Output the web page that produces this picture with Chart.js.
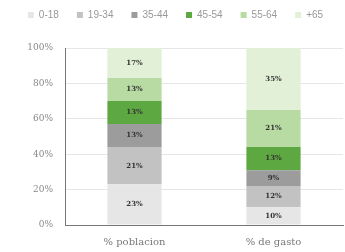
<!DOCTYPE html>
<html>
<head>
<meta charset="utf-8">
<script src="https://cdn.jsdelivr.net/npm/chart.js@4"></script>
<style>
  html, body { margin: 0; padding: 0; background: #fff; }
  #wrap { width: 345px; height: 252px; position: relative; }
</style>
</head>
<body>
<div id="wrap"><canvas id="grafico"></canvas></div>
<script>
// Datos
const categorias = ['% poblacion', '% de gasto'];
const grupos = ['0-18', '19-34', '35-44', '45-54', '55-64', '+65'];
const v0_18 = [23, 10];
const v19_34 = [21, 12];
const v35_44 = [13, 9];
const v45_54 = [13, 13];
const v55_64 = [13, 21];
const v65 = [17, 35];
const ticksY = [0, 20, 40, 60, 80, 100];

const colores = ['#e6e6e6', '#c2c2c2', '#9c9c9c', '#5ea842', '#b8dba4', '#e1f0d6'];
const valores = [v0_18, v19_34, v35_44, v45_54, v55_64, v65];

// Etiquetas dentro de las barras
const etiquetas = {
    id: 'etiquetas',
    afterDatasetsDraw(chart) {
        const ctx = chart.ctx;
        ctx.save();
        ctx.font = 'bold 7px "DejaVu Serif"';
        ctx.fillStyle = '#333';
        ctx.textAlign = 'center';
        ctx.textBaseline = 'middle';
        chart.data.datasets.forEach((ds, i) => {
            chart.getDatasetMeta(i).data.forEach((bar, j) => {
                const y = (bar.y + bar.base) / 2;
                ctx.fillText(ds.data[j] + '%', bar.x, y);
            });
        });
        ctx.restore();
    }
};

// Espacio extra bajo la leyenda
const espacioLeyenda = {
    id: 'espacioLeyenda',
    beforeInit(chart) {
        const fitOrig = chart.legend.fit;
        chart.legend.fit = function () {
            fitOrig.bind(chart.legend)();
            this.height += 18;
        };
    }
};

new Chart(document.getElementById('grafico'), {
    type: 'bar',
    data: {
        labels: categorias,
        datasets: grupos.map((g, i) => ({
            label: g,
            data: valores[i],
            backgroundColor: colores[i],
            barPercentage: 0.39,
            categoryPercentage: 1
        }))
    },
    options: {
        responsive: true,
        maintainAspectRatio: false,
        animation: false,
        layout: { padding: { left: 8, right: 2, top: -8, bottom: 0 } },
        plugins: {
            tooltip: { enabled: false },
            legend: {
                position: 'top',
                labels: {
                    boxWidth: 6,
                    boxHeight: 6,
                    padding: 18,
                    color: '#999',
                    font: { family: '"Liberation Sans"', size: 10 }
                }
            }
        },
        scales: {
            x: {
                stacked: true,
                grid: { display: false, drawTicks: false },
                border: { color: '#777', width: 1 },
                ticks: { color: '#777', padding: 11, font: { family: '"DejaVu Serif"', size: 10 } },
                afterFit: axis => { axis.height = 27; }
            },
            y: {
                stacked: true,
                min: 0,
                max: 100,
                afterBuildTicks: axis => { axis.ticks = ticksY.map(v => ({ value: v })); },
                grid: { color: '#e6e6e6', drawTicks: false },
                border: { color: '#777', width: 1 },
                ticks: {
                    color: '#888',
                    padding: 12,
                    font: { family: '"DejaVu Serif"', size: 9 },
                    callback: v => v + '%'
                },
                afterFit: axis => { axis.width = 57; }
            }
        }
    },
    plugins: [etiquetas, espacioLeyenda]
});
</script>
</body>
</html>
